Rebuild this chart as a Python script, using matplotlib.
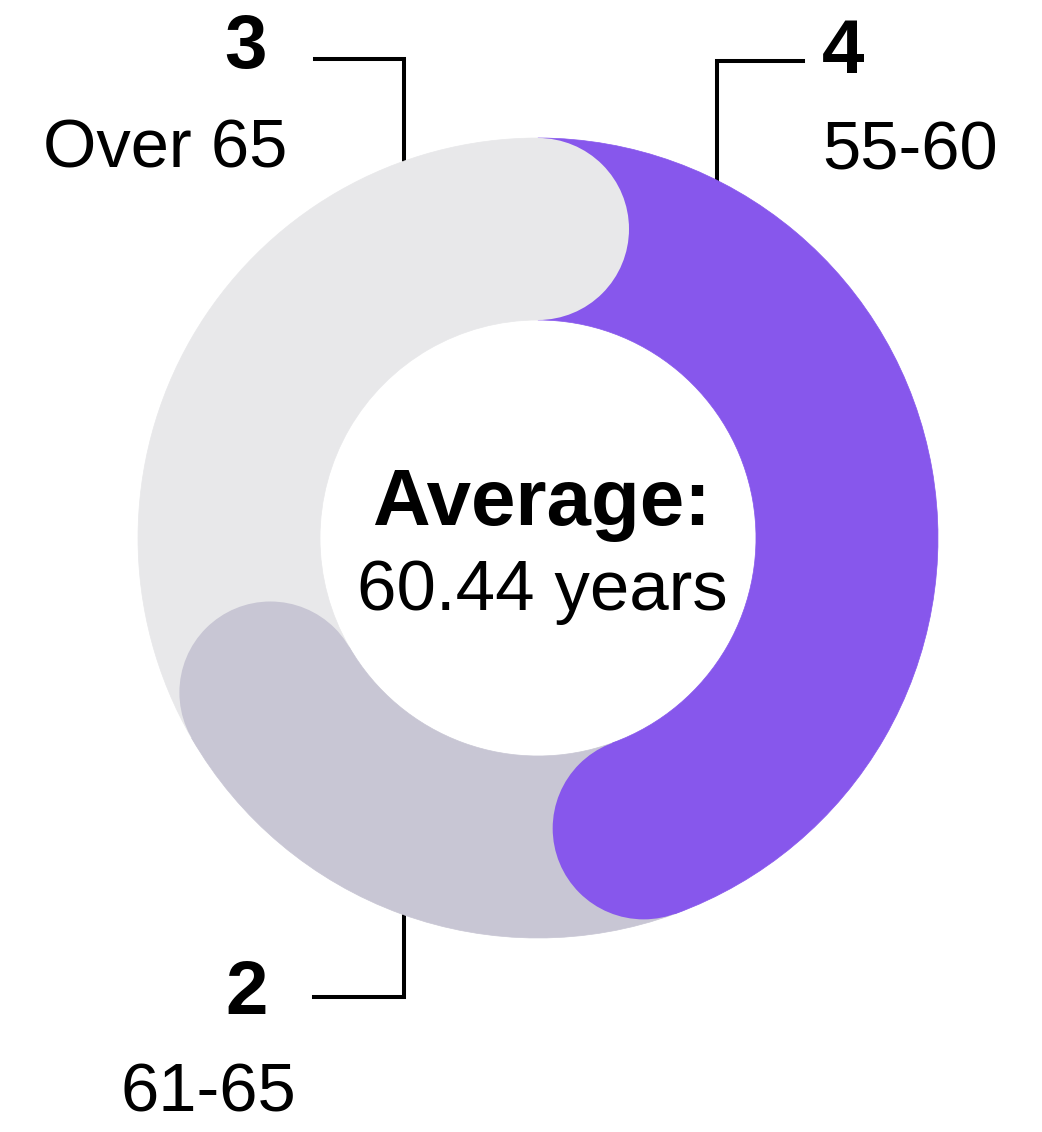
import numpy as np
import matplotlib
matplotlib.use("Agg")
import matplotlib.pyplot as plt
from matplotlib.patches import Wedge, Circle

# donnees du graphique
counts = [4, 2, 3]
age_groups = ["55-60", "61-65", "Over 65"]
colors = ["#8757EC", "#C8C6D4", "#E8E8EA"]
average_age = 60.44

plt.rcParams['font.family'] = ['Liberation Sans', 'DejaVu Sans']

dpi = 100
fig = plt.figure(figsize=(1042 / dpi, 1132 / dpi), dpi=dpi)
ax = fig.add_axes([0, 0, 1, 1])
ax.set_xlim(0, 1042)
ax.set_ylim(1132, 0)
ax.axis('off')

# geometrie de l'anneau (en pixels)
cx, cy = 538, 538
r_out = 400
r_in = 218
band = r_out - r_in
r_mid = (r_out + r_in) / 2

# angles en degres, sens horaire depuis le haut
total = sum(counts)
ends = np.cumsum(counts) / total * 360
starts = np.concatenate([[0], ends[:-1]])

for a, b, col in zip(starts, ends, colors):
    w = Wedge((cx, cy), r_out, -90 + a, -90 + b, width=band,
              facecolor=col, edgecolor=col, linewidth=0.5, zorder=2)
    ax.add_patch(w)

# bouts arrondis a la fin de chaque segment
for b, col in zip(ends, colors):
    t = np.deg2rad(-90 + b)
    c = Circle((cx + r_mid * np.cos(t), cy + r_mid * np.sin(t)), band / 2,
               facecolor=col, edgecolor='none', zorder=3)
    ax.add_patch(c)

# traits de rappel
lw = 2.9
ax.plot([803, 717, 717], [61, 61, 182], color='black', lw=lw, zorder=1,
        solid_joinstyle='miter')
ax.plot([314, 404, 404], [997, 997, 915], color='black', lw=lw, zorder=1,
        solid_joinstyle='miter')
ax.plot([315, 404, 404], [59, 59, 161], color='black', lw=lw, zorder=1,
        solid_joinstyle='miter')

# etiquettes
num_pos = [(843, 73), (247, 1014), (246, 68)]
lab_pos = [(910, 170), (208, 1112), (165, 167)]
for n, lab, (nx, ny), (lx, ly) in zip(counts, age_groups, num_pos, lab_pos):
    ax.text(nx, ny, str(n), fontsize=55, fontweight='bold', ha='center', va='baseline')
    ax.text(lx, ly, lab, fontsize=49.5, ha='center', va='baseline')

# texte central
ax.text(541, 525, "Average:", fontsize=57.5, fontweight='bold', ha='center', va='baseline')
ax.text(542, 610, f"{average_age:.2f} years", fontsize=51, ha='center', va='baseline')

plt.savefig('out.png', dpi=dpi)
plt.close(fig)
